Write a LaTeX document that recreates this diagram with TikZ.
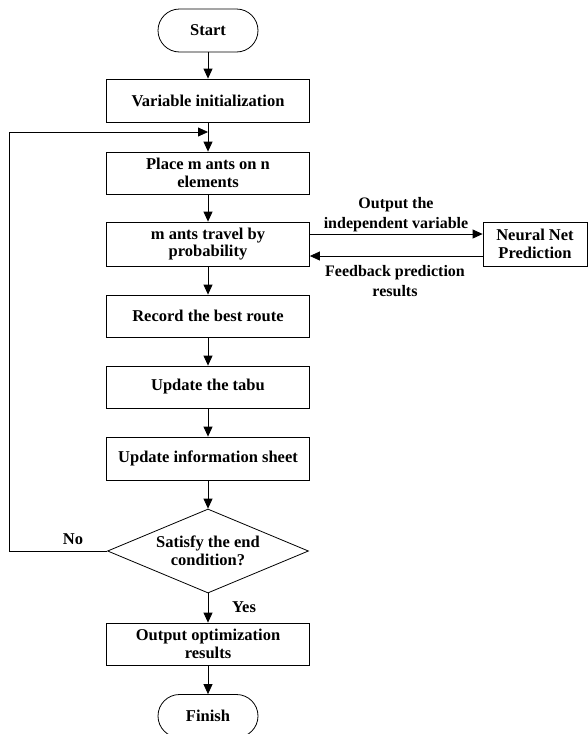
\documentclass[tikz,border=0pt]{standalone}
\usepackage{fontspec}
\setmainfont{Liberation Serif}
\usetikzlibrary{shapes.geometric,arrows.meta}
\begin{document}
\begin{tikzpicture}[x=1pt,y=-1pt,
  every node/.style={font=\fontsize{16.5}{17.5}\selectfont\bfseries},
  box/.style={draw,line width=0.8pt,minimum width=203pt,minimum height=43pt,align=center,inner sep=2pt},
  term/.style={draw,line width=0.8pt,minimum width=100pt,minimum height=43pt,rounded corners=21.5pt,inner sep=2pt},
  lbl/.style={align=center,font=\fontsize{16}{20}\selectfont\bfseries},
  arr/.style={line width=0.8pt,-{Triangle[length=10pt,width=9pt]}},
  ln/.style={line width=0.8pt}]
\clip (0,0) rectangle (588,734);
\useasboundingbox (0,0) rectangle (588,734);
\node[term] (start) at (208,30.5) {Start};
\node[box] (init) at (208,100.5) {Variable initialization};
\node[box,minimum height=42pt] (place) at (208,173) {Place m ants on n\\elements};
\node[box,minimum height=44pt] (travel) at (208,244) {m ants travel by\\probability};
\node[box,minimum width=104pt,minimum height=44pt] (neural) at (535,244) {Neural Net\\Prediction};
\node[box,minimum height=42pt] (record) at (208,316) {Record the best route};
\node[box,minimum height=42pt] (tabu) at (208,387) {Update the tabu};
\node[box] (info) at (208,458.5) {Update information sheet};
\node[draw,diamond,line width=0.8pt,minimum width=201pt,minimum height=84pt,inner sep=0pt] (dec) at (208,551) {};
\node[align=center] (dectxt) at (dec.center) {Satisfy the end\\condition?};
\node[box,minimum height=42pt] (out) at (208,644) {Output optimization\\results};
\node[term] (finish) at (208,716) {Finish};
\coordinate (join) at (208,132);
\coordinate (lb) at (9,551);
\coordinate (lt) at (9,132);

\draw[arr] (start) -- (init);
\draw[ln] (init) -- (join);
\draw[arr] (join) -- (place);
\draw[arr] (place) -- (travel);
\draw[arr] (travel) -- (record);
\draw[arr] (record) -- (tabu);
\draw[arr] (tabu) -- (info);
\draw[arr] (info) -- (dec);
\draw[arr] (dec) -- (out);
\draw[arr] (out) -- (finish);
\draw[arr] (dec.west) -- (lb) -- (lt) -- (join);
\draw[arr] ([yshift=10pt]travel.east) -- ([yshift=10pt]neural.west);
\draw[arr] ([yshift=-12pt]neural.west) -- ([yshift=-12pt]travel.east);

\node[lbl] (l1) at (396,215) {Output the\\independent variable};
\node[lbl] (l2) at (395,281) {Feedback prediction\\results};
\node (no) at (73,539) {No};
\node (yes) at (244,607) {Yes};
\end{tikzpicture}
\end{document}
